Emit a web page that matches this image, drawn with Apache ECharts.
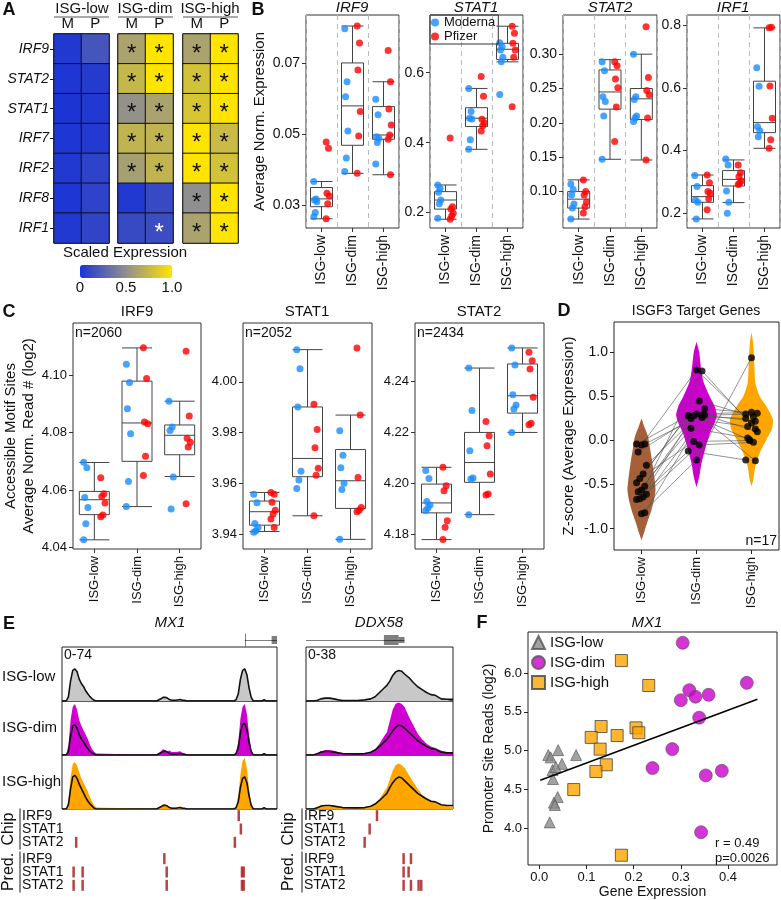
<!DOCTYPE html>
<html lang="en">
<head>
<meta charset="UTF-8">
<title>ISG panels</title>
<script src="https://cdn.jsdelivr.net/npm/echarts@6/dist/echarts.min.js"></script>
<style>
  body { margin: 0; background: #fff; }
  #main { width: 781px; height: 900px; }
</style>
</head>
<body>
<div id="main"></div>
<script>
var FONT = '"Liberation Sans", Arial, sans-serif';
var BLUE = '#1a8cff', RED = '#ff0000';
var groups = ['ISG-low', 'ISG-dim', 'ISG-high'];

// ---- A: heatmap (scaled expression), rows top to bottom
var genes = ['IRF9', 'STAT2', 'STAT1', 'IRF7', 'IRF2', 'IRF8', 'IRF1'];
var heatLowM = [0.02, 0.01, 0.0, 0.01, 0.02, 0.01, 0.02];
var heatLowP = [0.18, 0.04, 0.02, 0.03, 0.08, 0.08, 0.09];
var heatDimM = [0.62, 0.74, 0.52, 0.72, 0.6, 0.02, 0.12];
var heatDimP = [1.0, 1.0, 0.62, 0.72, 0.72, 0.12, 0.14];
var heatHighM = [0.62, 0.8, 0.82, 1.0, 1.0, 0.5, 0.62];
var heatHighP = [1.0, 1.0, 1.0, 0.76, 0.8, 1.0, 1.0];
// 0 = no star, 1 = black star, 2 = white star
var starLow = [0, 0, 0, 0, 0, 0, 0];
var starDimM = [1, 1, 1, 1, 1, 0, 0];
var starDimP = [1, 1, 1, 1, 1, 0, 2];
var starHigh = [1, 1, 1, 1, 1, 1, 1];

// ---- B: average normalised expression, box stats [min,q1,med,q3,max]
var bIrf9Box = [[0.0261, 0.0295, 0.0317, 0.0349, 0.0366], [0.0389, 0.0468, 0.0579, 0.0700, 0.0804], [0.0385, 0.0485, 0.0497, 0.0577, 0.0647]];
var bIrf9Mod = [[0.0366, 0.0317, 0.0314, 0.0309, 0.0279, 0.0267], [0.0796, 0.0647, 0.0605, 0.0508, 0.0432, 0.0394], [0.0598, 0.0554, 0.0492, 0.0488, 0.0476, 0.0415]];
var bIrf9Pfz = [[0.0477, 0.0460, 0.0333, 0.0325, 0.0303, 0.0261], [0.0804, 0.0756, 0.0680, 0.0563, 0.0494, 0.0389], [0.0735, 0.0647, 0.0570, 0.0525, 0.0497, 0.0485, 0.0385]];
var bStat1Box = [[0.181, 0.21, 0.236, 0.26, 0.279], [0.381, 0.446, 0.47, 0.5, 0.555], [0.631, 0.638, 0.667, 0.684, 0.733]];
var bStat1Mod = [[0.279, 0.27, 0.258, 0.236, 0.225, 0.184], [0.555, 0.489, 0.47, 0.468, 0.408, 0.381], [0.686, 0.674, 0.665, 0.644, 0.631, 0.538]];
var bStat1Pfz = [[0.413, 0.217, 0.21, 0.198, 0.19, 0.181], [0.589, 0.533, 0.467, 0.457, 0.448, 0.433], [0.733, 0.713, 0.684, 0.665, 0.644, 0.503]];
var bStat2Box = [[0.060, 0.076, 0.089, 0.100, 0.117], [0.147, 0.220, 0.245, 0.277, 0.292], [0.146, 0.205, 0.235, 0.250, 0.300]];
var bStat2Mod = [[0.111, 0.103, 0.095, 0.082, 0.076, 0.060], [0.289, 0.276, 0.238, 0.231, 0.210, 0.147], [0.300, 0.238, 0.234, 0.210, 0.207, 0.202]];
var bStat2Pfz = [[0.117, 0.100, 0.095, 0.085, 0.078, 0.069], [0.289, 0.283, 0.264, 0.251, 0.223, 0.173], [0.340, 0.266, 0.247, 0.241, 0.207, 0.146]];
var bIrf1Box = [[0.182, 0.235, 0.253, 0.288, 0.322], [0.234, 0.287, 0.308, 0.336, 0.370], [0.407, 0.457, 0.489, 0.621, 0.791]];
var bIrf1Mod = [[0.320, 0.285, 0.242, 0.235, 0.182], [0.373, 0.354, 0.271, 0.235, 0.200], [0.664, 0.605, 0.476, 0.463, 0.444]];
var bIrf1Pfz = [[0.322, 0.297, 0.269, 0.264, 0.246, 0.211], [0.354, 0.329, 0.317, 0.304, 0.296, 0.292], [0.791, 0.793, 0.606, 0.503, 0.434, 0.407]];

// ---- C: accessible motif sites (log2)
var cIrf9Box = [[4.0426, 4.0514, 4.0566, 4.0595, 4.0696], [4.0542, 4.0700, 4.0834, 4.0980, 4.1096], [4.0647, 4.0723, 4.0791, 4.0827, 4.0910]];
var cIrf9Mod = [[4.0697, 4.0678, 4.0574, 4.0539, 4.0482, 4.0426], [4.1039, 4.0975, 4.0884, 4.0796, 4.0630, 4.0542], [4.0910, 4.0820, 4.0808, 4.0645, 4.0534]];
var cIrf9Pfz = [[4.0643, 4.0587, 4.0577, 4.0555, 4.0513, 4.0507], [4.1097, 4.0989, 4.0837, 4.0831, 4.0718, 4.0651], [4.1084, 4.0858, 4.0781, 4.0767, 4.0750, 4.0552]];
var cStat1Box = [[3.9410, 3.9435, 3.9488, 3.9530, 3.9564], [3.9472, 3.9626, 3.9698, 3.9901, 4.0127], [3.9379, 3.9501, 3.9610, 3.9733, 3.9869]];
var cStat1Mod = [[3.9557, 3.9523, 3.9442, 3.9426, 3.9413, 3.9407], [4.0127, 4.0052, 3.9901, 3.9648, 3.9613, 3.9580], [3.9807, 3.9711, 3.9661, 3.9600, 3.9576, 3.9379]];
var cStat1Pfz = [[3.9564, 3.9557, 3.9525, 3.9494, 3.9479, 3.9459, 3.9426], [3.9912, 3.9812, 3.9740, 3.9659, 3.9632, 3.9472], [4.0133, 3.9869, 3.9623, 3.9505, 3.9494, 3.9488]];
var cStat2Box = [[4.1778, 4.1883, 4.1922, 4.1996, 4.2062], [4.1876, 4.2003, 4.2081, 4.2199, 4.2452], [4.2199, 4.2275, 4.2343, 4.2468, 4.2531]];
var cStat2Mod = [[4.2049, 4.2018, 4.1928, 4.1914, 4.1902, 4.1892], [4.2452, 4.2285, 4.2127, 4.2020, 4.2016, 4.1876], [4.2531, 4.2464, 4.2347, 4.2307, 4.2291, 4.2199]];
var cStat2Pfz = [[4.2062, 4.1990, 4.1970, 4.1852, 4.1826, 4.1778], [4.2242, 4.2186, 4.2147, 4.2036, 4.1957, 4.1953], [4.2514, 4.2481, 4.2448, 4.2337, 4.2235, 4.2229]];

// ---- D: ISGF3 target genes, z-scores (same gene order in each group)
var zLow = [-0.04, -0.04, -0.05, -0.13, -0.28, -0.38, -0.43, -0.48, -0.52, -0.56, -0.58, -0.61, -0.64, -0.66, -0.67, -0.82, -0.83];
var zDim = [0.28, 0.29, 0.80, 0.25, 0.36, 0.45, -0.01, 0.28, 0.79, 0.30, 0.14, 0.29, -0.05, 0.28, -0.12, 0.26, -0.22];
var zHigh = [0.30, 0.22, 0.20, 0.16, 0.31, 0.27, 0.00, 0.25, 0.13, 0.32, 0.03, 0.10, -0.02, 0.01, -0.22, -0.23, 0.94];
// violin outlines: [z, half width in category bands]
var violinLow = [[0.25, 0], [0.16, 0.05], [0.045, 0.12], [-0.07, 0.15], [-0.26, 0.2], [-0.45, 0.24], [-0.56, 0.255], [-0.67, 0.23], [-0.79, 0.18], [-0.9, 0.12], [-1.02, 0.06], [-1.13, 0]];
var violinDim = [[1.12, 0], [1.0, 0.05], [0.81, 0.085], [0.66, 0.13], [0.5, 0.24], [0.39, 0.33], [0.29, 0.37], [0.2, 0.33], [0.09, 0.25], [-0.07, 0.17], [-0.26, 0.09], [-0.41, 0.05], [-0.53, 0]];
var violinHigh = [[1.23, 0], [1.11, 0.03], [0.88, 0.05], [0.65, 0.07], [0.5, 0.15], [0.39, 0.27], [0.24, 0.39], [0.13, 0.37], [0.01, 0.27], [-0.14, 0.15], [-0.29, 0.07], [-0.44, 0.035], [-0.52, 0]];

// ---- E: coverage tracks (position in % of the window)
var mx1Pos = [0, 2, 3, 4, 5, 6, 7, 8, 9, 10, 11, 12, 13, 14, 15, 16, 44, 46, 47, 48, 49, 50, 51, 53, 55, 56, 57, 58, 60, 80, 81, 82, 83, 84, 85, 86, 87, 88, 89, 93, 94, 95, 100];
var mx1Low = [0, 0, 6, 28, 42, 44, 40, 30, 24, 20, 14, 10, 6, 3, 1, 0, 0, 3, 5, 5, 4, 2, 1, 1, 2, 1, 1, 0, 0, 0, 2, 10, 30, 42, 44, 36, 18, 5, 0, 0, 2, 0, 0];
var mx1DimFill = [0, 0, 14, 48, 66, 70, 62, 48, 40, 34, 28, 22, 14, 8, 4, 2, 0, 5, 8, 7, 5, 6, 4, 4, 5, 3, 2, 1, 0, 0, 4, 18, 50, 66, 70, 56, 28, 8, 0, 0, 3, 0, 0];
var mx1DimLine = [0, 0, 5, 26, 40, 41, 37, 28, 22, 18, 13, 9, 5, 3, 1, 0, 0, 3, 5, 5, 4, 2, 1, 1, 2, 1, 1, 0, 0, 0, 2, 10, 30, 42, 43, 35, 17, 5, 0, 0, 2, 0, 0];
var mx1HighFill = [0, 0, 12, 44, 62, 64, 60, 50, 42, 36, 30, 24, 16, 10, 5, 2, 0, 4, 6, 6, 4, 3, 2, 2, 3, 2, 1, 0, 0, 0, 4, 18, 48, 66, 70, 56, 28, 8, 0, 0, 2, 0, 0];
var mx1HighLine = [0, 0, 6, 28, 44, 46, 42, 34, 28, 22, 16, 11, 7, 4, 1, 0, 0, 3, 5, 5, 4, 2, 1, 1, 2, 1, 1, 0, 0, 0, 2, 10, 30, 42, 44, 36, 18, 5, 0, 0, 2, 0, 0];
var ddxPos = [0, 5, 8, 10, 13, 16, 19, 22, 25, 35, 40, 44, 47, 50, 53, 55, 57, 59, 61, 63, 65, 67, 70, 73, 76, 79, 82, 85, 88, 92, 96, 100];
var ddxLow = [0, 0, 0.5, 1.5, 2, 2, 1.5, 0.8, 0.3, 0.3, 0.8, 1.5, 3, 6, 9, 11, 14, 18, 20.5, 21.5, 21, 19, 16.5, 13, 10, 8, 6, 4.5, 4, 1.5, 1.2, 1.2];
var ddxDimFill = [0, 0, 1, 2.5, 3.5, 3.5, 3, 2, 1, 0.5, 1, 2, 4, 8, 13, 16, 24, 32, 36, 37, 36, 34, 27, 21, 15, 11, 8, 6, 5, 3, 2, 1.8];
var ddxDimLine = [0, 0, 1, 2, 2.5, 2.5, 2, 1.5, 1, 0.8, 1, 2, 3.5, 6, 9, 11, 14, 17, 19.5, 21, 20.5, 19, 16, 13, 10, 8, 6, 4.5, 4, 2, 1.5, 1.5];
var ddxHighFill = [0, 0, 0.5, 1.5, 2, 2, 1.5, 1, 0.5, 0.5, 1, 2, 4, 7, 12, 15, 21, 27, 31, 32, 31, 29, 24, 19, 14, 10, 8, 6, 5, 3, 2, 1.6];
var ddxHighLine = [0, 0, 1, 2, 2.5, 2.5, 2, 1.5, 1, 0.8, 1, 2, 3.5, 6, 9, 11, 15, 18.5, 21, 22.5, 22, 20, 17, 14, 11, 9, 7, 5.5, 5, 3, 2.5, 2.5];
// binding sites: [position, row] rows IRF9, STAT1, STAT2
var chipMx1 = [[82.2, 0], [83.2, 1], [6.6, 2], [80.4, 2]];
var predMx1 = [[47.6, 0], [5.4, 1], [9.6, 1], [48.7, 1], [83.7, 1], [84.5, 1], [5.4, 2], [9.6, 2], [48.7, 2], [83.7, 2], [84.5, 2]];
var chipDdx = [[48.3, 0], [43.3, 1], [39.9, 2]];
var predDdx = [[66.4, 0], [71.4, 0], [66.4, 1], [69.8, 1], [66.4, 2], [71.4, 2], [76.6, 2], [78.4, 2]];
// gene models
var mx1Intron = [85, 100], mx1Exon = [97.5, 100];
var ddxIntron = [0, 67], ddxExon = [53, 63], ddxUtr = [63, 67];

// ---- F: MX1 gene expression vs promoter reads
var fLow = [[0.019, 4.943], [0.024, 4.914], [0.040, 5.007], [0.048, 4.83], [0.078, 4.943], [0.028, 4.75], [0.035, 4.79], [0.029, 4.635], [0.039, 4.402], [0.031, 4.33], [0.033, 4.30], [0.022, 4.076]];
var fDim = [[0.304, 6.39], [0.440, 5.874], [0.318, 5.78], [0.331, 5.695], [0.359, 5.72], [0.300, 5.65], [0.339, 5.425], [0.282, 5.02], [0.240, 4.776], [0.353, 4.681], [0.387, 4.74], [0.343, 3.949]];
var fHigh = [[0.174, 6.161], [0.232, 5.84], [0.131, 5.311], [0.110, 5.171], [0.165, 5.195], [0.205, 5.294], [0.211, 5.231], [0.129, 5.02], [0.142, 4.818], [0.120, 4.732], [0.073, 4.499], [0.174, 3.653]];
var fFit = [[0.002, 4.618], [0.4625, 5.662]];

var grids = [], xAxes = [], yAxes = [], series = [], graphics = [];

function addGrid(l, t, w, h, border) {
  grids.push({ left: l, top: t, width: w, height: h, show: !!border, borderColor: border || '#333', borderWidth: 1, backgroundColor: 'transparent' });
  return grids.length - 1;
}
function addX(o) { xAxes.push(o); return xAxes.length - 1; }
function addY(o) { yAxes.push(o); return yAxes.length - 1; }
function text(x, y, s, font, align) {
  graphics.push({ type: 'text', x: x, y: y, silent: true,
    style: { text: s, font: font, fill: '#111', textAlign: align || 'center', textVerticalAlign: 'middle' } });
}
function zip(pos, vals) { return pos.map(function (p, i) { return [p, vals[i]]; }); }
var NOLINE = { show: false, onZero: false };

// heatmap blocks
var heatCols = [[heatLowM, heatLowP], [heatDimM, heatDimP], [heatHighM, heatHighP]];
var starCols = [[starLow, starLow], [starDimM, starDimP], [starHigh, starHigh]];
var heatLeft = [54, 118, 183];
heatCols.forEach(function (cols, k) {
  var gi = addGrid(heatLeft[k], 34, 55, 209, '#111');
  var xi = addX({ gridIndex: gi, type: 'category', position: 'top', data: ['M', 'P'],
    axisLine: NOLINE, axisTick: { show: false },
    axisLabel: { fontSize: 15, margin: 3, color: '#111', fontFamily: FONT } });
  var yi = addY({ gridIndex: gi, type: 'category', inverse: true, data: genes,
    axisLine: NOLINE,
    axisTick: { show: k === 0, alignWithLabel: true, length: 4, lineStyle: { color: '#111' } },
    axisLabel: { show: k === 0, fontSize: 14, fontStyle: 'italic', color: '#111', margin: 5, fontFamily: FONT } });
  var data = [];
  cols.forEach(function (col, c) {
    col.forEach(function (v, r) {
      var s = starCols[k][c][r];
      data.push({ value: [c, r, v], label: { show: s > 0, color: s === 2 ? '#fff' : '#111' } });
    });
  });
  series.push({ type: 'heatmap', xAxisIndex: xi, yAxisIndex: yi, data: data,
    itemStyle: { borderColor: '#111', borderWidth: 1 },
    label: { formatter: '*', fontSize: 24, offset: [0, 5], fontFamily: FONT },
    emphasis: { disabled: true } });
});

// box + dot panels
function jitter(sets, side, spread) {
  var out = [];
  sets.forEach(function (vals, g) {
    vals.forEach(function (v, i) { out.push([g + side + ((i * 3) % 5 - 2) * spread, v]); });
  });
  return out;
}
function boxPanel(o) {
  var gi = addGrid(o.left, o.top, o.width, o.height, '#333');
  var xc = addX({ gridIndex: gi, type: 'category', data: groups,
    axisLine: NOLINE,
    axisTick: { show: true, alignWithLabel: true, length: 4, lineStyle: { color: '#333' } },
    axisLabel: { rotate: 90, fontSize: o.fs, color: '#111', margin: 7, fontFamily: FONT },
    splitLine: { show: !!o.dashed, interval: 0, lineStyle: { type: [5, 4], color: '#bbb' } } });
  var xv = addX({ gridIndex: gi, type: 'value', min: -0.5, max: 2.5, show: false });
  var yi = addY({ gridIndex: gi, type: 'value', min: o.min, max: o.max,
    axisLine: NOLINE, splitLine: { show: false },
    axisTick: { show: true, length: 4, customValues: o.ticks, lineStyle: { color: '#333' } },
    axisLabel: { customValues: o.ticks, fontSize: o.fs, color: '#111', margin: 6, fontFamily: FONT,
      formatter: function (v) { return v.toFixed(o.dec); } },
    name: o.yname || '', nameLocation: 'middle', nameGap: o.nameGap || 30,
    nameTextStyle: { fontSize: 15, color: '#111', fontFamily: FONT, lineHeight: 18 } });
  series.push({ type: 'boxplot', xAxisIndex: xc, yAxisIndex: yi, data: o.box, boxWidth: [o.bw, o.bw], silent: true,
    itemStyle: { color: 'transparent', borderColor: '#444', borderWidth: 1 } });
  series.push({ type: 'scatter', name: 'Moderna', xAxisIndex: xv, yAxisIndex: yi, data: jitter(o.mod, -0.2, 0.025),
    symbolSize: 7, itemStyle: { color: BLUE }, silent: true });
  series.push({ type: 'scatter', name: 'Pfizer', xAxisIndex: xv, yAxisIndex: yi, data: jitter(o.pfz, 0.2, 0.025),
    symbolSize: 7, itemStyle: { color: RED }, silent: true });
}
boxPanel({ left: 306, top: 15, width: 93, height: 213, box: bIrf9Box, mod: bIrf9Mod, pfz: bIrf9Pfz,
  min: 0.0235, max: 0.0835, ticks: [0.03, 0.05, 0.07], dec: 2, fs: 14, dashed: true, bw: 22,
  yname: 'Average Norm. Expression', nameGap: 34 });
boxPanel({ left: 430, top: 15, width: 93, height: 213, box: bStat1Box, mod: bStat1Mod, pfz: bStat1Pfz,
  min: 0.156, max: 0.765, ticks: [0.2, 0.4, 0.6], dec: 1, fs: 14, dashed: true, bw: 22 });
boxPanel({ left: 563, top: 15, width: 94, height: 213, box: bStat2Box, mod: bStat2Mod, pfz: bStat2Pfz,
  min: 0.047, max: 0.357, ticks: [0.1, 0.15, 0.2, 0.25, 0.3], dec: 2, fs: 14, dashed: true, bw: 22 });
boxPanel({ left: 687, top: 15, width: 93, height: 213, box: bIrf1Box, mod: bIrf1Mod, pfz: bIrf1Pfz,
  min: 0.153, max: 0.832, ticks: [0.2, 0.4, 0.6, 0.8], dec: 1, fs: 14, dashed: true, bw: 22 });

boxPanel({ left: 73, top: 323, width: 128, height: 226, box: cIrf9Box, mod: cIrf9Mod, pfz: cIrf9Pfz,
  min: 4.0394, max: 4.1183, ticks: [4.04, 4.06, 4.08, 4.10], dec: 2, fs: 13, bw: 30,
  yname: 'Accessible Motif Sites\nAverage Norm. Read # (log2)', nameGap: 34 });
boxPanel({ left: 243, top: 323, width: 129, height: 226, box: cStat1Box, mod: cStat1Mod, pfz: cStat1Pfz,
  min: 3.9341, max: 4.0232, ticks: [3.94, 3.96, 3.98, 4.00], dec: 2, fs: 13, bw: 30 });
boxPanel({ left: 415, top: 323, width: 129, height: 226, box: cStat2Box, mod: cStat2Mod, pfz: cStat2Pfz,
  min: 4.1741, max: 4.2629, ticks: [4.18, 4.20, 4.22, 4.24], dec: 2, fs: 13, bw: 30 });

// D: violins
(function () {
  var gi = addGrid(614, 322, 165, 228, '#222');
  addX({ gridIndex: gi, type: 'category', data: groups, axisLine: NOLINE,
    axisTick: { show: true, alignWithLabel: true, length: 4, lineStyle: { color: '#222' } },
    axisLabel: { rotate: 90, fontSize: 13, color: '#111', margin: 7, fontFamily: FONT } });
  var xv = addX({ gridIndex: gi, type: 'value', min: -0.5, max: 2.5, show: false });
  var yi = addY({ gridIndex: gi, type: 'value', min: -1.242, max: 1.345,
    axisLine: NOLINE, splitLine: { show: false },
    axisTick: { show: true, length: 4, customValues: [-1, -0.5, 0, 0.5, 1], lineStyle: { color: '#222' } },
    axisLabel: { customValues: [-1, -0.5, 0, 0.5, 1], fontSize: 14, color: '#111', margin: 6, fontFamily: FONT,
      formatter: function (v) { return v.toFixed(1); } },
    name: 'Z-score (Average Expression)', nameLocation: 'middle', nameGap: 38,
    nameTextStyle: { fontSize: 15, color: '#111', fontFamily: FONT } });
  var violins = [violinLow, violinDim, violinHigh];
  var vcol = ['#a5603a', '#cc00cc', '#ffa500'];
  series.push({ type: 'custom', xAxisIndex: xv, yAxisIndex: yi, silent: true,
    data: [[0, 0], [1, 0], [2, 0]],
    renderItem: function (params, api) {
      var g = api.value(0), left = [], right = [];
      violins[g].forEach(function (p) {
        left.push(api.coord([g - p[1], p[0]]));
        right.unshift(api.coord([g + p[1], p[0]]));
      });
      return { type: 'polygon', shape: { points: left.concat(right), smooth: 0.2 }, style: { fill: vcol[g] } };
    } });
  function dj(i, s) { return ((i * 5) % 7 - 3) * s; }
  var pl = zLow.map(function (v, i) { return [dj(i, 0.03), v]; });
  var pd = zDim.map(function (v, i) { return [1 + dj(i, 0.05), v]; });
  var ph = zHigh.map(function (v, i) { return [2 + dj(i, 0.035), v]; });
  series.push({ type: 'lines', coordinateSystem: 'cartesian2d', xAxisIndex: xv, yAxisIndex: yi, polyline: true, silent: true,
    data: pl.map(function (p, i) { return { coords: [p, pd[i], ph[i]] }; }),
    lineStyle: { color: '#555', width: 0.7, opacity: 0.9 } });
  series.push({ type: 'scatter', xAxisIndex: xv, yAxisIndex: yi, data: pl.concat(pd, ph), symbolSize: 7,
    itemStyle: { color: '#000' }, silent: true });
})();

// E: tracks
function track(left, width, top, h, ymax, pos, fill, line, color) {
  var gi = addGrid(left, top, width, h, '#222');
  var xi = addX({ gridIndex: gi, type: 'value', min: 0, max: 100, show: false });
  var yi = addY({ gridIndex: gi, type: 'value', min: 0, max: ymax, show: false });
  series.push({ type: 'line', xAxisIndex: xi, yAxisIndex: yi, data: zip(pos, fill), showSymbol: false, silent: true,
    lineStyle: { width: 0 }, areaStyle: { color: color, opacity: 1 } });
  series.push({ type: 'line', xAxisIndex: xi, yAxisIndex: yi, data: zip(pos, line), showSymbol: false, silent: true,
    lineStyle: { width: 1.6, color: '#111' } });
}
var trackTops = [647, 701, 755];
track(62, 215, trackTops[0], 54, 74, mx1Pos, mx1Low, mx1Low, '#c8c8c8');
track(62, 215, trackTops[1], 54, 74, mx1Pos, mx1DimFill, mx1DimLine, '#d000d0');
track(62, 215, trackTops[2], 54, 74, mx1Pos, mx1HighFill, mx1HighLine, '#ffa500');
track(306, 147, trackTops[0], 54, 38, ddxPos, ddxLow, ddxLow, '#c8c8c8');
track(306, 147, trackTops[1], 54, 38, ddxPos, ddxDimFill, ddxDimLine, '#d000d0');
track(306, 147, trackTops[2], 54, 38, ddxPos, ddxHighFill, ddxHighLine, '#ffa500');

function marks(left, width, top, pts, name, offset, gap) {
  var gi = addGrid(left, top, width, 40);
  var xi = addX({ gridIndex: gi, type: 'value', min: 0, max: 100, show: false });
  var yi = addY({ gridIndex: gi, type: 'category', inverse: true, data: ['IRF9', 'STAT1', 'STAT2'], offset: offset,
    axisLine: { show: true, onZero: false, lineStyle: { color: '#666', width: 1.5 } }, axisTick: { show: false },
    axisLabel: { inside: true, interval: 0, margin: 2, fontSize: 14, color: '#111', fontFamily: FONT },
    name: name, nameLocation: 'middle', nameRotate: 90, nameGap: gap,
    nameTextStyle: { fontSize: 16, color: '#111', fontFamily: FONT } });
  series.push({ type: 'scatter', xAxisIndex: xi, yAxisIndex: yi, data: pts, symbol: 'rect', symbolSize: [2.5, 11],
    itemStyle: { color: '#a31515' }, silent: true });
}
marks(62, 215, 809, chipMx1, 'Chip', 42, 3);
marks(62, 215, 852, predMx1, 'Pred.', 42, 3);
marks(306, 147, 809, chipDdx, 'Chip', 4, 5);
marks(306, 147, 852, predDdx, 'Pred.', 4, 5);

function geneModel(left, width, intron, exons) {
  var gi = addGrid(left, 632, width, 16);
  var xi = addX({ gridIndex: gi, type: 'value', min: 0, max: 100, show: false });
  var yi = addY({ gridIndex: gi, type: 'value', min: -1, max: 1, show: false });
  var data = [{ coords: [[intron[0], 0], [intron[1], 0]], lineStyle: { width: 1 } }];
  exons.forEach(function (e) { data.push({ coords: [[e[0], 0], [e[1], 0]], lineStyle: { width: e[2] } }); });
  series.push({ type: 'lines', coordinateSystem: 'cartesian2d', xAxisIndex: xi, yAxisIndex: yi, silent: true,
    data: data, lineStyle: { color: '#000', cap: 'butt' } });
  return [xi, yi];
}
var mx1Ax = geneModel(62, 215, mx1Intron, [[mx1Exon[0], mx1Exon[1], 8]]);
series.push({ type: 'lines', coordinateSystem: 'cartesian2d', xAxisIndex: mx1Ax[0], yAxisIndex: mx1Ax[1], silent: true,
  data: [{ coords: [[mx1Intron[0], -0.8], [mx1Intron[0], 0.8]] }], lineStyle: { color: '#000', width: 1 } });
geneModel(306, 147, ddxIntron, [[ddxExon[0], ddxExon[1], 10], [ddxUtr[0], ddxUtr[1], 6]]);

// F: scatter
(function () {
  var gi = addGrid(528, 632, 249, 236, '#222');
  var xi = addX({ gridIndex: gi, type: 'value', min: -0.024, max: 0.504, axisLine: NOLINE, splitLine: { show: false },
    axisTick: { show: true, length: 4, customValues: [0, 0.1, 0.2, 0.3, 0.4], lineStyle: { color: '#222' } },
    axisLabel: { customValues: [0, 0.1, 0.2, 0.3, 0.4], fontSize: 13, color: '#111', margin: 6, fontFamily: FONT,
      formatter: function (v) { return v.toFixed(1); } },
    name: 'Gene Expression', nameLocation: 'middle', nameGap: 20, nameTextStyle: { fontSize: 14, color: '#111', fontFamily: FONT } });
  var yi = addY({ gridIndex: gi, type: 'value', min: 3.527, max: 6.529, axisLine: NOLINE, splitLine: { show: false },
    axisTick: { show: true, length: 4, customValues: [4, 4.5, 5, 5.5, 6], lineStyle: { color: '#222' } },
    axisLabel: { customValues: [4, 4.5, 5, 5.5, 6], fontSize: 13, color: '#111', margin: 6, fontFamily: FONT,
      formatter: function (v) { return v.toFixed(1); } },
    name: 'Promoter Site Reads (log2)', nameLocation: 'middle', nameGap: 32, nameTextStyle: { fontSize: 14, color: '#111', fontFamily: FONT } });
  series.push({ type: 'line', xAxisIndex: xi, yAxisIndex: yi, data: fFit, showSymbol: false, silent: true,
    lineStyle: { color: '#000', width: 1.5 } });
  series.push({ type: 'scatter', name: 'ISG-low', xAxisIndex: xi, yAxisIndex: yi, data: fLow, symbol: 'triangle', symbolSize: 11,
    itemStyle: { color: '#8a8a8a', borderColor: '#555', borderWidth: 0.8 }, silent: true });
  series.push({ type: 'scatter', name: 'ISG-dim', xAxisIndex: xi, yAxisIndex: yi, data: fDim, symbol: 'circle', symbolSize: 13,
    itemStyle: { color: '#cc00cc', borderColor: '#555', borderWidth: 0.8 }, silent: true });
  series.push({ type: 'scatter', name: 'ISG-high', xAxisIndex: xi, yAxisIndex: yi, data: fHigh, symbol: 'rect', symbolSize: 12,
    itemStyle: { color: '#ffa500', borderColor: '#444', borderWidth: 1 }, silent: true });
})();

// texts
var LET = 'bold 18px ' + FONT, T14 = '14px ' + FONT, T15 = '15px ' + FONT;
text(9, 10, 'A', LET); text(258, 10, 'B', LET); text(9, 312, 'C', LET);
text(564, 311, 'D', LET); text(9, 624, 'E', LET); text(482, 623, 'F', LET);
text(82, 9, 'ISG-low', T15); text(145, 9, 'ISG-dim', T15); text(210, 9, 'ISG-high', T15);
[[54, 109], [118, 173], [183, 238]].forEach(function (s) {
  graphics.push({ type: 'line', silent: true, shape: { x1: s[0], y1: 17, x2: s[1], y2: 17 }, style: { stroke: '#555', lineWidth: 1 } });
});
text(125, 253, 'Scaled Expression', T15);
text(80, 288, '0', T15); text(126, 288, '0.5', T15); text(172, 288, '1.0', T15);
var IT15 = 'italic 15px ' + FONT;
text(352, 8, 'IRF9', IT15); text(476, 8, 'STAT1', IT15); text(610, 8, 'STAT2', IT15); text(733, 8, 'IRF1', IT15);
text(137, 312, 'IRF9', T15); text(307, 312, 'STAT1', T15); text(479, 312, 'STAT2', T15);
text(75, 333, 'n=2060', T14, 'left'); text(245, 333, 'n=2052', T14, 'left'); text(417, 333, 'n=2434', T14, 'left');
text(696, 311, 'ISGF3 Target Genes', T14);
text(777, 541, 'n=17', T14, 'right');
text(170, 623, 'MX1', IT15); text(379, 623, 'DDX58', IT15);
text(64, 655, '0-74', T14, 'left'); text(308, 655, '0-38', T14, 'left');
text(2, 677, 'ISG-low', T15, 'left'); text(2, 728, 'ISG-dim', T15, 'left'); text(2, 782, 'ISG-high', T15, 'left');
text(647, 623, 'MX1', IT15);
text(715, 843, 'r = 0.49', '13px ' + FONT, 'left'); text(715, 858, 'p=0.0026', '13px ' + FONT, 'left');

var chart = echarts.init(document.getElementById('main'), null, { renderer: 'canvas' });
chart.setOption({
  animation: false,
  backgroundColor: '#fff',
  textStyle: { fontFamily: FONT },
  grid: grids,
  xAxis: xAxes,
  yAxis: yAxes,
  visualMap: {
    type: 'continuous', min: 0, max: 1, seriesIndex: [0, 1, 2], calculable: false,
    orient: 'horizontal', left: 80, top: 265, itemWidth: 13, itemHeight: 92, padding: 0,
    inRange: { color: ['#1c34d4', '#8f8f8f', '#ffe400'] }
  },
  legend: [
    { data: ['Moderna', 'Pfizer'], left: 430, top: 15, orient: 'vertical', itemGap: 1, itemWidth: 8, itemHeight: 8,
      icon: 'circle', borderColor: '#333', borderWidth: 1, padding: [1, 3, 1, 1], selectedMode: false,
      textStyle: { fontSize: 13, color: '#111', fontFamily: FONT } },
    { data: ['ISG-low', 'ISG-dim', 'ISG-high'], left: 531, top: 635, orient: 'vertical', itemGap: 5,
      itemWidth: 13, itemHeight: 13, padding: 0, selectedMode: false,
      textStyle: { fontSize: 15, color: '#111', fontFamily: FONT } }
  ],
  graphic: graphics,
  series: series
});
</script>
</body>
</html>
